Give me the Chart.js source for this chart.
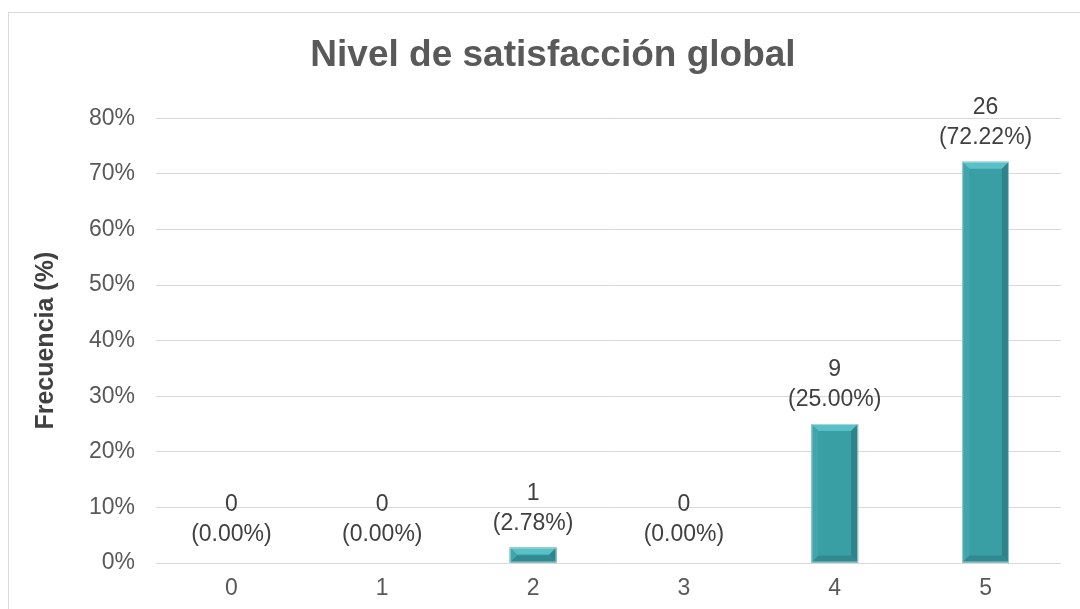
<!DOCTYPE html>
<html>
<head>
<meta charset="utf-8">
<script src="https://cdn.jsdelivr.net/npm/chart.js@4"></script>
<style>
  body { margin: 0; background: #fff; }
  #frame { position: absolute; left: 8px; top: 12px; width: 1100px; height: 620px; border: 1px solid #d9d9d9; }
  #wrap { position: absolute; left: 0; top: 0; width: 1080px; height: 609px; }
</style>
</head>
<body>
<div id="frame"></div>
<div id="wrap"><canvas id="satChart" width="1080" height="609"></canvas></div>
<script>
const categories = ['0', '1', '2', '3', '4', '5'];
const counts = [0, 0, 1, 0, 9, 26];
const percents = [0, 0, 2.78, 0, 25.00, 72.22];
const yTicks = [0, 10, 20, 30, 40, 50, 60, 70, 80];

const FONT = '"Liberation Sans", Arial, sans-serif';

// labels "n" + "(p%)" over each bar
const barLabels = {
    id: 'barLabels',
    afterDatasetsDraw(chart) {
        const ctx = chart.ctx;
        const meta = chart.getDatasetMeta(0);
        ctx.save();
        ctx.font = '23px ' + FONT;
        ctx.fillStyle = '#404040';
        ctx.textAlign = 'center';
        ctx.textBaseline = 'middle';
        meta.data.forEach((bar, i) => {
            const off = counts[i] === 0 ? 4 : 0;
            ctx.fillText(String(counts[i]), bar.x, bar.y - 54 - off);
            ctx.fillText('(' + percents[i].toFixed(2) + '%)', bar.x, bar.y - 24 - off);
        });
        ctx.restore();
    }
};

// bevel look of the bars
const bevel = {
    id: 'bevel',
    afterDatasetsDraw(chart) {
        const ctx = chart.ctx;
        const meta = chart.getDatasetMeta(0);
        ctx.save();
        meta.data.forEach(bar => {
            const h = bar.base - bar.y;
            if (h <= 0.5) return;
            const l = bar.x - bar.width / 2, r = bar.x + bar.width / 2;
            const t = bar.y, b = bar.base;
            const s = Math.min(7, h / 2);
            const poly = (pts, c) => {
                ctx.beginPath();
                ctx.moveTo(pts[0][0], pts[0][1]);
                pts.slice(1).forEach(p => ctx.lineTo(p[0], p[1]));
                ctx.closePath();
                ctx.fillStyle = c;
                ctx.fill();
            };
            poly([[l, t], [r, t], [r - s, t + s], [l + s, t + s]], '#58c0c7');
            poly([[r, t], [r, b], [r - s, b - s], [r - s, t + s]], '#2f848b');
            poly([[l, b], [r, b], [r - s, b - s], [l + s, b - s]], '#318a91');
            poly([[l, t], [l + s, t + s], [l + s, b - s], [l, b]], '#40a5ac');
            ctx.strokeStyle = 'rgba(200,225,228,0.7)';
            ctx.lineWidth = 1;
            ctx.strokeRect(l + 0.5, t + 0.5, r - l - 1, b - t - 1);
        });
        ctx.restore();
    }
};

const ctx = document.getElementById('satChart').getContext('2d');
const satChart = new Chart(ctx, {
    type: 'bar',
    data: {
        labels: categories,
        datasets: [{
            data: percents,
            backgroundColor: '#3a9ea5',
            borderWidth: 0,
            categoryPercentage: 1,
            barPercentage: 0.31
        }]
    },
    options: {
        responsive: false,
        animation: false,
        layout: { padding: { left: 45, right: 19, top: 0, bottom: 0 } },
        plugins: {
            legend: { display: false },
            tooltip: { enabled: false },
            title: {
                display: true,
                text: 'Nivel de satisfacción global',
                color: '#595959',
                font: { family: FONT, size: 37, weight: 'bold' },
                padding: { top: 34, bottom: 40 }
            }
        },
        scales: {
            x: {
                grid: { display: false },
                border: { display: false },
                ticks: {
                    color: '#595959',
                    padding: 4,
                    font: { family: FONT, size: 23 }
                },
                afterFit(scale) { scale.height = 46; }
            },
            y: {
                min: 0,
                max: 80,
                afterBuildTicks(scale) { scale.ticks = yTicks.map(v => ({ value: v })); },
                grid: { color: '#d9d9d9', lineWidth: 1, drawTicks: false },
                border: { display: false },
                ticks: {
                    color: '#595959',
                    padding: 21,
                    font: { family: FONT, size: 23 },
                    callback: v => v + '%'
                },
                title: {
                    display: true,
                    text: 'Frecuencia (%)',
                    color: '#404040',
                    font: { family: FONT, size: 25, weight: 'bold' },
                    padding: { top: -14, bottom: 0 }
                },
                afterFit(scale) { scale.width = 111; }
            }
        }
    },
    plugins: [bevel, barLabels]
});
</script>
</body>
</html>
